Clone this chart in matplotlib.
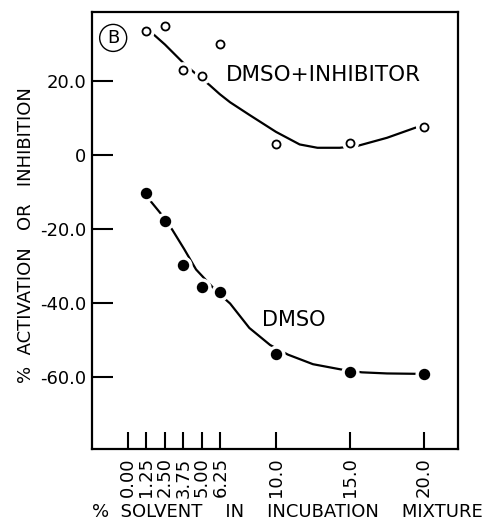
import numpy as np
import matplotlib
matplotlib.use("Agg")
import matplotlib.pyplot as plt

# measured points
solvent = [1.25, 2.50, 3.75, 5.00, 6.25, 10.0, 15.0, 20.0]
inhib_vals = [33.5, 34.9, 23.0, 21.3, 30.0, 3.0, 3.2, 7.6]
dmso_vals = [-10.3, -17.8, -29.7, -35.7, -37.0, -53.8, -58.6, -59.2]

# hand-drawn fitted curves
inhib_curve_x = [1.6, 2.5, 3.7, 4.6, 5.5, 6.2, 6.9, 8.2, 10.0, 11.6, 12.8, 14.3, 15.5, 17.5, 19.4]
inhib_curve_y = [33.0, 29.8, 25.0, 21.8, 18.9, 16.4, 14.2, 10.8, 6.2, 2.8, 1.9, 1.9, 2.4, 4.6, 7.3]
dmso_curve_x = [1.4, 2.3, 3.0, 3.8, 4.6, 6.0, 6.9, 8.2, 9.6, 10.8, 12.5, 14.5, 15.8, 17.5, 19.5]
dmso_curve_y = [-11.9, -16.3, -20.3, -25.5, -31.0, -37.0, -40.2, -46.8, -51.4, -54.0, -56.6, -58.1, -58.8, -59.1, -59.2]

xticks = [0.0, 1.25, 2.5, 3.75, 5.0, 6.25, 10.0, 15.0, 20.0]
xticklabels = ["0.00", "1.25", "2.50", "3.75", "5.00", "6.25", "10.0", "15.0", "20.0"]
yticks = [20, 0, -20, -40, -60]
yticklabels = ["20.0", "0", "-20.0", "-40.0", "-60.0"]

plt.rcParams["font.family"] = ["DejaVu Sans"]

fig = plt.figure(figsize=(4.92, 5.22), dpi=100)
ax = fig.add_axes([0.187, 0.140, 0.744, 0.837])

ax.plot(inhib_curve_x, inhib_curve_y, color="black", lw=1.6, zorder=2)
ax.plot(dmso_curve_x, dmso_curve_y, color="black", lw=1.6, zorder=2)

# white halos break the curves around the markers
ax.plot(solvent, inhib_vals, "o", ms=11, color="white", zorder=3)
ax.plot(solvent, dmso_vals, "o", ms=12, color="white", zorder=3)
ax.plot(solvent, inhib_vals, "o", ms=5.8, mfc="white", mec="black", mew=1.3, zorder=4)
ax.plot(solvent, dmso_vals, "o", ms=7.2, color="black", zorder=4)

ax.text(6.6, 21.6, "DMSO+INHIBITOR", fontsize=15.5, ha="left", va="center")
ax.text(9.05, -44.6, "DMSO", fontsize=15, ha="left", va="center")

ax.text(-1.0, 31.6, "B", fontsize=13, ha="center", va="center",
        bbox=dict(boxstyle="circle,pad=0.25", fc="white", ec="black", lw=1.0))

ax.set_xlim(-2.43, 22.3)
ax.set_ylim(-79.5, 38.6)
ax.set_xticks(xticks)
ax.set_xticklabels(xticklabels, rotation=90, fontsize=13)
ax.set_yticks(yticks)
ax.set_yticklabels(yticklabels, fontsize=13)
ax.tick_params(axis="x", direction="in", length=12, width=1.5, color="black", pad=6)
ax.tick_params(axis="y", direction="in", length=15, width=1.5, color="black", pad=4)
for sp in ax.spines.values():
    sp.set_linewidth(1.6)

ax.set_ylabel("%  ACTIVATION   OR   INHIBITION", fontsize=13)
ax.yaxis.set_label_coords(-0.155, 0.49)
ax.set_xlabel("%  SOLVENT    IN    INCUBATION    MIXTURE", fontsize=13)
ax.xaxis.set_label_coords(0.535, -0.124)

fig.savefig("out.png", dpi=100)
